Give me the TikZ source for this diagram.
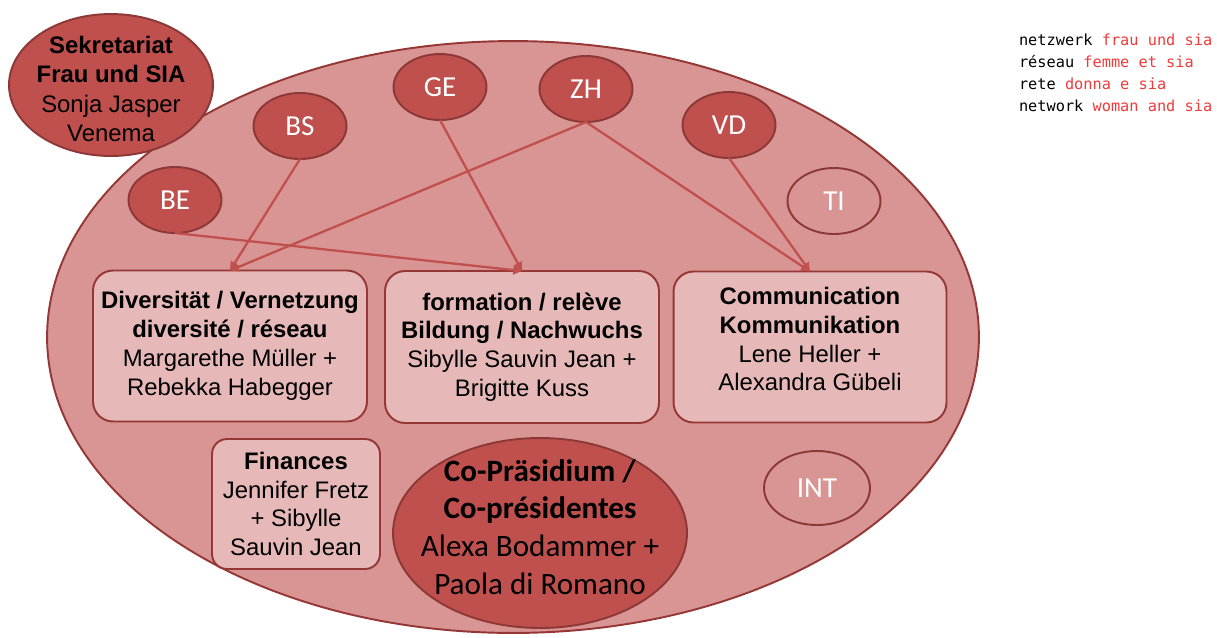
\documentclass[tikz,border=0pt]{standalone}
\usepackage{fontspec}
\setmainfont{Liberation Sans}
\newfontfamily\califont{Carlito}
\newfontfamily\legendfont{DejaVu Sans Mono}
\usetikzlibrary{shapes.geometric,arrows.meta}
\definecolor{netfill}{HTML}{D99594}
\definecolor{netline}{HTML}{953735}
\definecolor{cantfill}{HTML}{C0504D}
\definecolor{cantline}{HTML}{8C3836}
\definecolor{boxfill}{HTML}{E6B9B8}
\definecolor{legred}{HTML}{F03A3A}
\begin{document}
\begin{tikzpicture}[x=0.02cm,y=-0.02cm,inner sep=0pt,outer sep=0pt,line width=1.1pt,
canton/.style={draw=cantline,fill=cantfill,ellipse,minimum width=1.86cm,minimum height=1.32cm,text=white,font=\califont\fontsize{16.5}{19}\selectfont},
opencanton/.style={canton,fill=none},
group/.style={draw=netline,fill=boxfill,rounded corners=0.4cm,align=center,font=\fontsize{13.6}{16.4}\selectfont},
bodytext/.style={align=center,font=\fontsize{13.6}{16.6}\selectfont},
link/.style={draw=cantfill,line width=1.3pt,-{Triangle[length=5pt,width=5pt]}}]
\useasboundingbox (0,0) rectangle (1217,637);
% the network
\node[draw=netline,fill=netfill,ellipse,minimum width=18.64cm,minimum height=11.84cm] (net) at (513,337) {};
\node[canton,minimum width=4.08cm,minimum height=2.84cm] (sek) at (111,85) {};
\node[bodytext] (sektext) at (111,89) {\textbf{Sekretariat}\\\textbf{Frau und SIA}\\Sonja Jasper\\Venema};
% cantons
\node[canton] (BE) at (175,200) {BE};
\node[canton] (BS) at (300,126) {BS};
\node[canton] (GE) at (440,87) {GE};
\node[canton] (ZH) at (586,89) {ZH};
\node[canton] (VD) at (729,125) {VD};
\node[opencanton] (TI) at (834,201) {TI};
\node[opencanton,minimum width=2.12cm,minimum height=1.48cm] (INT) at (817,488) {INT};
% groups
\node[group,minimum width=5.48cm,minimum height=3.02cm] (div) at (230,346) {\textbf{Diversität / Vernetzung}\\\textbf{diversité / réseau}\\Margarethe Müller +\\Rebekka Habegger};
\node[group,minimum width=5.48cm,minimum height=3.04cm] (form) at (522,347) {\textbf{formation / relève}\\\textbf{Bildung / Nachwuchs}\\Sibylle Sauvin Jean +\\Brigitte Kuss};
\node[group,minimum width=5.46cm,minimum height=3.02cm] (comm) at (810,347) {\textbf{Communication}\\\textbf{Kommunikation}\\Lene Heller +\\Alexandra Gübeli\\[-7.4pt]};
\node[group,minimum width=3.36cm,minimum height=2.6cm,rounded corners=0.3cm] (fin) at (296,504) {\textbf{Finances}\\Jennifer Fretz\\+ Sibylle\\Sauvin Jean};
\node[canton,minimum width=5.88cm,minimum height=3.8cm] (copres) at (540,533) {};
\node[align=center,font=\califont\fontsize{17.7}{21.5}\selectfont] (coprestext) at (540,527) {\textbf{Co-Präsidium /}\\\textbf{Co-présidentes}\\Alexa Bodammer +\\Paola di Romano};
% links
\draw[link] (BE.south) -- (form.north);
\draw[link] (BS.south) -- (div.north);
\draw[link] (ZH.south) -- (div.north);
\draw[link] (GE.south) -- (form.north);
\draw[link] (ZH.south) -- (comm.north);
\draw[link] (VD.south) -- (comm.north);
% legend
\node[anchor=west,align=left,font=\legendfont\fontsize{8.7}{12.5}\selectfont] (legend) at (1019,73)
  {netzwerk \textcolor{legred}{frau und sia}\\réseau \textcolor{legred}{femme et sia}\\rete \textcolor{legred}{donna e sia}\\network \textcolor{legred}{woman and sia}};
\end{tikzpicture}
\end{document}
